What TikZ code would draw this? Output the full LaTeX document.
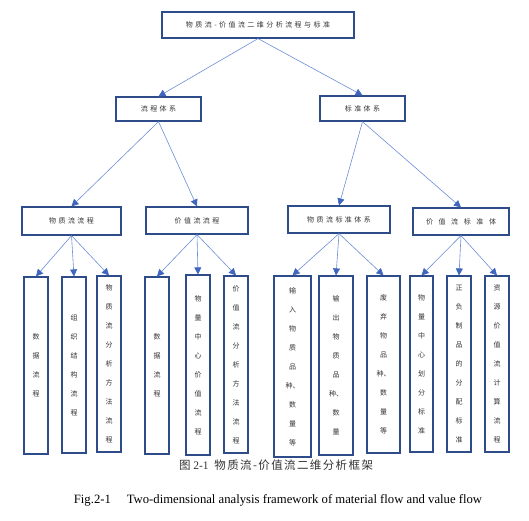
\documentclass[tikz,border=0pt]{standalone}
\usepackage{fontspec}
\setmainfont{Liberation Serif}
\newfontfamily\cjk{Noto Sans CJK SC}
\newfontfamily\cjkwide[LetterSpace=35]{Noto Sans CJK SC}
\newfontfamily\cjkwider[LetterSpace=80]{Noto Sans CJK SC}
\newfontfamily\cjkcap[LetterSpace=12]{Noto Sans CJK SC}
\usetikzlibrary{arrows.meta}

\definecolor{boxblue}{HTML}{2F4C8A}
\definecolor{linkblue}{HTML}{6B8ED6}
\definecolor{tipblue}{HTML}{3F66BF}
\definecolor{textgray}{HTML}{333333}

\tikzset{
    box/.style={draw=boxblue, line width=1.2pt, fill=white,
        text=textgray, inner sep=0pt},
    headbox/.style={box, font=\cjkwide\fontsize{7}{8}\selectfont},
    tallbox/.style={box, minimum width=24pt, minimum height=177pt,
        align=center, font=\cjk\fontsize{7}{19}\selectfont},
    flowarrow/.style={draw=linkblue, line width=0.6pt,
        -{Triangle[length=7pt, width=7pt, color=tipblue]}}
}

\begin{document}
\begin{tikzpicture}[x=1pt, y=-1pt]
        \useasboundingbox (0,0) rectangle (529,520);

        % top
        \node[headbox, minimum width=192pt, minimum height=26pt]
        (top) at (258,25) {物质流-价值流二维分析流程与标准};

        % second row
        \node[headbox, minimum width=85pt, minimum height=24pt]
        (lcts) at (158.5,109) {流程体系};
        \node[headbox, minimum width=85pt, minimum height=25pt]
        (bzts) at (362.5,108.5) {标准体系};

        % third row
        \node[headbox, minimum width=99pt, minimum height=28pt]
        (wzl) at (71.5,221) {物质流流程};
        \node[headbox, minimum width=102pt, minimum height=27pt]
        (jzl) at (197,220.5) {价值流流程};
        \node[headbox, minimum width=102pt, minimum height=27pt]
        (wzbz) at (339,219.5) {物质流标准体系};
        \node[headbox, minimum width=96pt, minimum height=27pt,
            font=\cjkwider\fontsize{7}{8}\selectfont]
        (jzbz) at (461,221.5) {价值流标准体};

        % leaves
        \node[tallbox] (wl1) at (36,365.5) {数\\据\\流\\程};
        \node[tallbox, minimum height=176pt] (wl2) at (74,365)
        {组\\织\\结\\构\\流\\程};
        \node[tallbox, minimum height=176pt] (wl3) at (109,364)
        {物\\质\\流\\分\\析\\方\\法\\流\\程};

        \node[tallbox] (jl1) at (157,365.5) {数\\据\\流\\程};
        \node[tallbox, minimum height=180pt] (jl2) at (198,365)
        {物\\量\\中\\心\\价\\值\\流\\程};
        \node[tallbox] (jl3) at (236,364.5)
        {价\\值\\流\\分\\析\\方\\法\\流\\程};

        \node[tallbox, minimum width=37pt, minimum height=181pt]
        (wb1) at (292.5,366.5) {输\\入\\物\\质\\品\\种、\\数\\量\\等};
        \node[tallbox, minimum width=34pt, minimum height=179pt]
        (wb2) at (336,365.5) {输\\出\\物\\质\\品\\种、\\数\\量};
        \node[tallbox, minimum width=33pt]
        (wb3) at (383.5,364.5) {废\\弃\\物\\品\\种、\\数\\量\\等};

        \node[tallbox, minimum width=23pt, minimum height=176pt]
        (jb1) at (421.5,364) {物\\量\\中\\心\\划\\分\\标\\准};
        \node[tallbox, minimum height=176pt]
        (jb2) at (459,364) {正\\负\\制\\品\\的\\分\\配\\标\\准};
        \node[tallbox, minimum height=176pt]
        (jb3) at (497,364) {资\\源\\价\\值\\流\\计\\算\\流\\程};

        % arrows
        \foreach \p/\c in {top/lcts, top/bzts, lcts/wzl, lcts/jzl,
            bzts/wzbz, bzts/jzbz}
        {
            \draw[flowarrow] (\p.south) -- (\c.north);
        }
        \foreach \u in {1,2,3}
        {
            \draw[flowarrow] (wzl.south) -- (wl\u.north);
            \draw[flowarrow] (jzl.south) -- (jl\u.north);
            \draw[flowarrow] (wzbz.south) -- (wb\u.north);
            \draw[flowarrow] (jzbz.south) -- (jb\u.north);
        }

        % captions
        \node[text=textgray, font=\fontsize{11.5}{13}\selectfont]
        (capcn) at (276,465)
        {{\cjk 图} 2-1\ \ {\cjkcap 物质流-价值流二维分析框架}};
        \node[font=\fontsize{12.7}{14}\selectfont]
        (capen) at (278,500)
        {Fig.2-1\quad\ Two-dimensional analysis framework of material flow and value flow};
\end{tikzpicture}
\end{document}
